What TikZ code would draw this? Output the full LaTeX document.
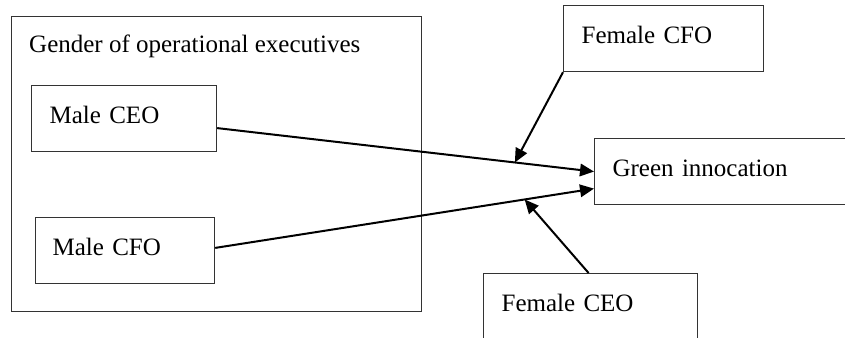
\documentclass[tikz,border=0pt]{standalone}
\usepackage{fontspec}
\setmainfont{Liberation Serif}
\usetikzlibrary{arrows.meta}
\tikzset{
  txt/.style={font=\fontsize{25}{30}\selectfont},
  boxnode/.style={txt, draw=black!80, line width=1.2pt, anchor=north west,
    minimum height=66pt, inner ysep=0pt, inner xsep=18pt, align=left,
    text height=18pt, text depth=9pt},
  frame/.style={draw=black!80, line width=1.2pt, anchor=north west,
    minimum width=410pt, minimum height=295pt, inner sep=0pt},
  conn/.style={line width=2pt, black, -{Triangle[length=14pt,width=12.5pt]}}
}
\begin{document}
\begin{tikzpicture}[x=1pt,y=-1pt]
\useasboundingbox (0,0) rectangle (845,337);
\clip (0,0) rectangle (845,337);
\node[frame] (grp) at (11,16) {};
\node[txt, anchor=base west, inner sep=0pt] (title) at (29,52.5) {Gender of operational executives};
\node[boxnode, text width=149pt] (mceo) at (31,85) {Male CEO};
\node[boxnode, text width=145pt, inner xsep=17pt] (mcfo) at (35,217) {Male CFO};
\node[boxnode, text width=164pt] (fcfo) at (563,5) {Female CFO};
\node[boxnode, text width=234pt] (green) at (594,138) {Green innocation};
\node[boxnode, text width=178pt] (fceo) at (483,273) {Female CEO};
\path ([yshift=-9.5pt]mceo.east) -- (green.west) coordinate[pos=0.79] (p1);
\path ([yshift=2.7pt]mcfo.east) -- ([yshift=-17pt]green.west) coordinate[pos=0.817] (p2);
\draw[conn] ([yshift=-9.5pt]mceo.east) -- (green.west);
\draw[conn] ([yshift=2.7pt]mcfo.east) -- ([yshift=-17pt]green.west);
\draw[conn] (fcfo.south west) -- (p1);
\draw[conn] ([xshift=-2pt]fceo.north) -- (p2);
\end{tikzpicture}
\end{document}
